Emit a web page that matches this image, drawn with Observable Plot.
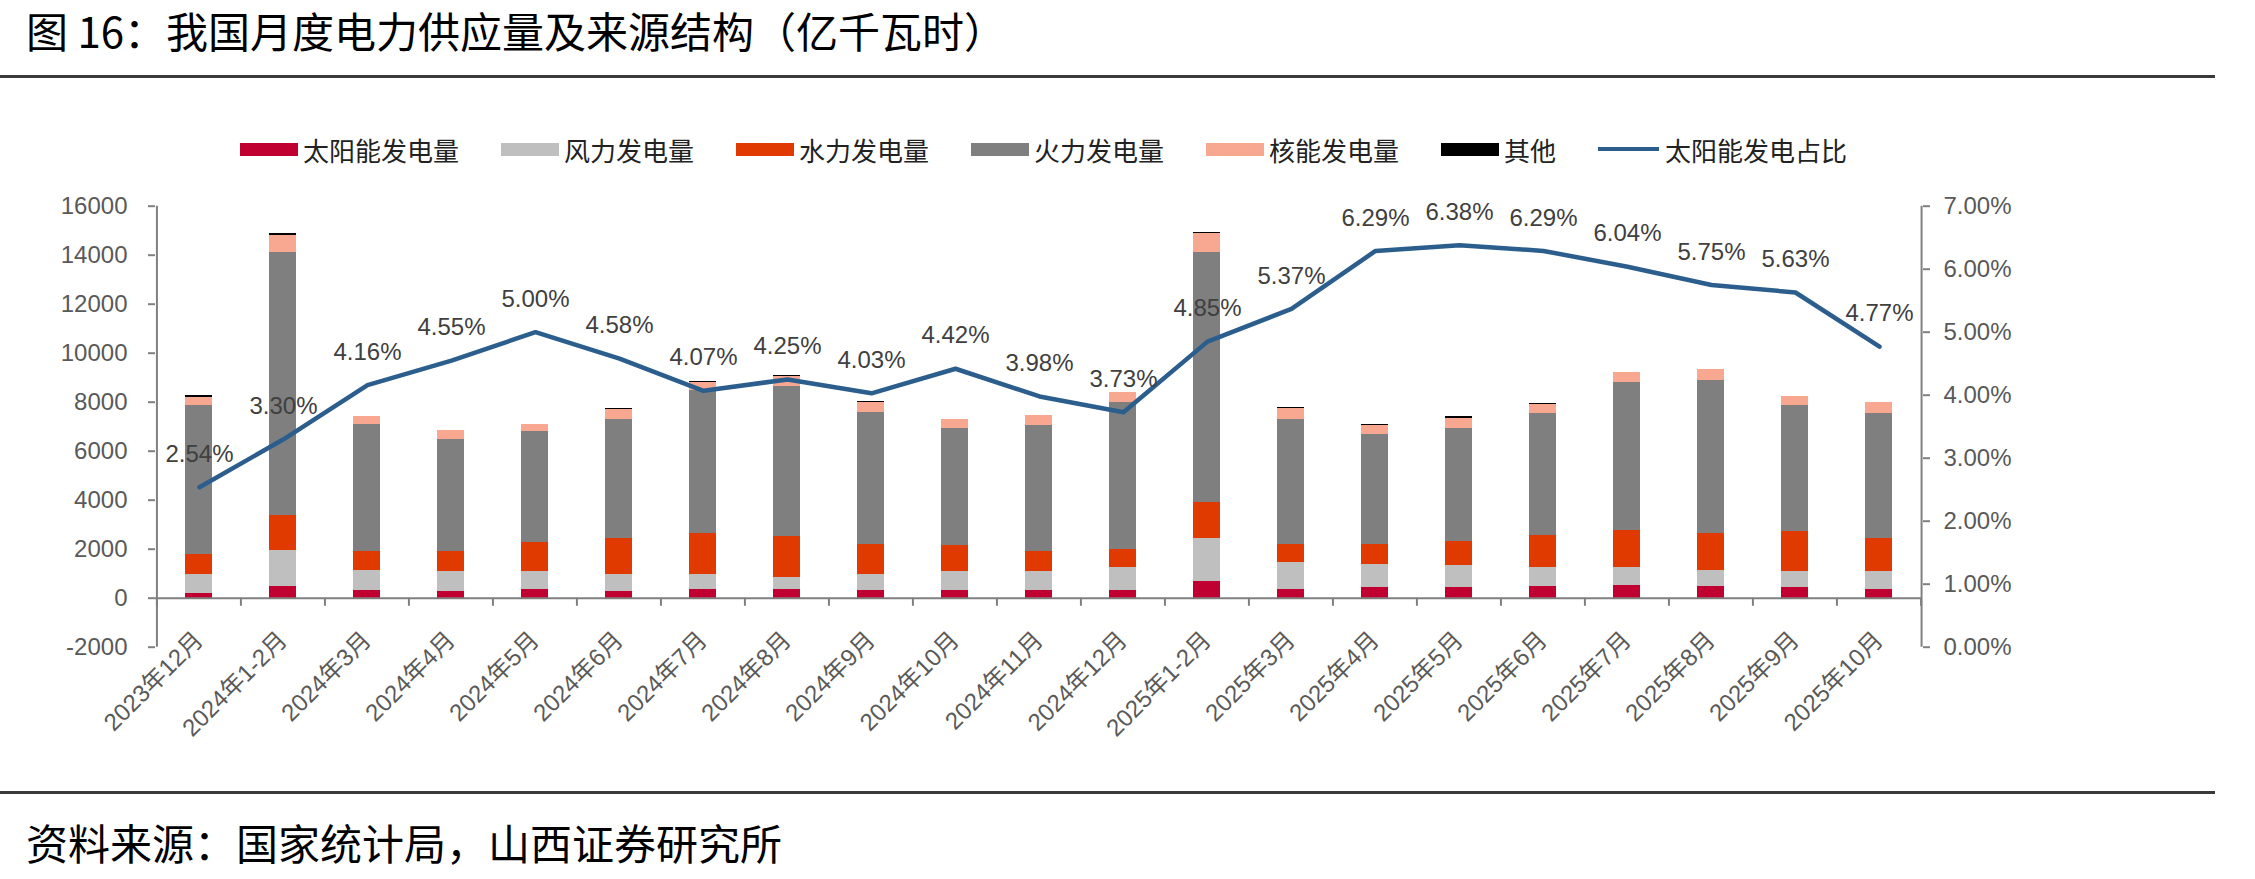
<!DOCTYPE html>
<html>
<head>
<meta charset="utf-8">
<script src="https://cdn.jsdelivr.net/npm/d3@7"></script>
<script src="https://cdn.jsdelivr.net/npm/@observablehq/plot@0.6"></script>
<style>
  body { margin: 0; background: #fff; }
  #wrap { position: relative; width: 2255px; height: 879px; overflow: hidden; background: #fff; }
  .title { position: absolute; left: 26px; top: 2px; height: 56px; line-height: 56px; font-family: "Noto Sans CJK SC", sans-serif; font-size: 42px; font-weight: 400; color: #000; white-space: nowrap; }
  .rule { position: absolute; left: 0; width: 2215px; height: 3px; background: #3a3a3a; }
  #legend { position: absolute; left: 240px; top: 132px; height: 34px; display: flex; align-items: center; font-family: "Noto Sans CJK SC", sans-serif; font-size: 26px; color: #222; white-space: nowrap; }
  .item { display: flex; align-items: center; margin-right: 42px; }
  .sw { width: 58px; height: 13px; margin-right: 5px; }
  .ln { width: 61px; height: 4px; margin-right: 6px; }
  .plot { position: absolute; left: 0; top: 185px; }
  .source { position: absolute; left: 26px; top: 814px; height: 56px; line-height: 56px; font-family: "Noto Sans CJK SC", sans-serif; font-size: 42px; font-weight: 400; color: #000; white-space: nowrap; }
</style>
</head>
<body>
<div id="wrap">
  <div class="title">图 16：我国月度电力供应量及来源结构（亿千瓦时）</div>
  <div class="rule" style="top:75px"></div>
  <div id="legend"></div>
  <div id="plotA" class="plot"></div>
  <div id="plotB" class="plot"></div>
  <div class="rule" style="top:791px"></div>
  <div class="source">资料来源：国家统计局，山西证券研究所</div>
</div>
<script>
// ---------- data ----------
const months = ["2023年12月","2024年1-2月","2024年3月","2024年4月","2024年5月","2024年6月","2024年7月","2024年8月","2024年9月","2024年10月","2024年11月","2024年12月","2025年1-2月","2025年3月","2025年4月","2025年5月","2025年6月","2025年7月","2025年8月","2025年9月","2025年10月"];
const solar   = [190, 474, 298, 286, 368, 286, 352, 352, 298, 298, 298, 298, 666, 352, 433, 433, 474, 531, 474, 433, 368];
const wind    = [790, 1487, 846, 802, 720, 680, 614, 490, 668, 790, 790, 940, 1769, 1103, 956, 887, 764, 719, 670, 655, 720];
const hydro   = [818, 1402, 761, 804, 1172, 1485, 1674, 1675, 1240, 1078, 817, 748, 1471, 751, 817, 993, 1336, 1500, 1496, 1621, 1363];
const thermal = [6047, 10759, 5204, 4605, 4549, 4863, 5850, 6117, 5378, 4764, 5148, 6007, 10216, 5092, 4466, 4617, 4985, 6035, 6239, 5136, 5108];
const nuclear = [352, 682, 312, 367, 300, 368, 300, 421, 396, 368, 424, 408, 751, 437, 381, 425, 339, 409, 449, 380, 421];
const other   = [60, 65, 0, 0, 0, 55, 45, 55, 55, 0, 0, 0, 45, 65, 55, 60, 60, 0, 0, 0, 0];
const solarShare = [2.54, 3.30, 4.16, 4.55, 5.00, 4.58, 4.07, 4.25, 4.03, 4.42, 3.98, 3.73, 4.85, 5.37, 6.29, 6.38, 6.29, 6.04, 5.75, 5.63, 4.77];

const seriesNames = ["太阳能发电量","风力发电量","水力发电量","火力发电量","核能发电量","其他"];
const seriesValues = [solar, wind, hydro, thermal, nuclear, other];
const seriesColors = ["#C00030","#BFBFBF","#E03A00","#7F7F7F","#F8A890","#000000"];
const lineName = "太阳能发电占比";
const lineColor = "#2C5E8D";

const leftTicks = [-2000, 0, 2000, 4000, 6000, 8000, 10000, 12000, 14000, 16000];
const rightTicks = [0, 1, 2, 3, 4, 5, 6, 7];

// ---------- layout ----------
const W = 2255, H = 606, ML = 155, MR = 333, MT = 20.7, MB = 144.3;
const step = (W - ML - MR) / months.length;
const axisGray = "#808080";
const textGray = "#595959";
const numFont = '"Liberation Sans", "Noto Sans CJK SC", sans-serif';

// legend
const legend = document.getElementById("legend");
seriesNames.forEach((n, i) => {
  const it = document.createElement("div");
  it.className = "item";
  it.innerHTML = `<div class="sw" style="background:${seriesColors[i]}"></div><span>${n}</span>`;
  legend.appendChild(it);
});
{
  const it = document.createElement("div");
  it.className = "item";
  it.innerHTML = `<div class="ln" style="background:${lineColor}"></div><span>${lineName}</span>`;
  legend.appendChild(it);
}

// stacked table
const long = months.flatMap((m, i) => seriesNames.map((s, k) => ({month: m, series: s, value: seriesValues[k][i]})));
const shareData = months.map((m, i) => ({month: m, share: solarShare[i]}));
const last = months[months.length - 1];

const plotA = Plot.plot({
  width: W, height: H, marginLeft: ML, marginRight: MR, marginTop: MT, marginBottom: MB,
  style: {fontFamily: numFont, fontSize: "24px", color: textGray, background: "transparent", overflow: "visible"},
  x: {type: "band", domain: months, paddingInner: 0.68, paddingOuter: 0.34, axis: null},
  y: {domain: [-2000, 16000], axis: null},
  color: {domain: seriesNames, range: seriesColors},
  marks: [
    Plot.barY(long, {x: "month", y: "value", fill: "series", shapeRendering: "crispEdges"}),
    Plot.ruleY([0], {stroke: axisGray, strokeWidth: 2}),
    Plot.ruleX(months, {x: d => d, dx: -step / 2, y1: 0, y2: -330, stroke: axisGray, strokeWidth: 2}),
    Plot.ruleX([last], {x: d => d, dx: step / 2, y1: 0, y2: -330, stroke: axisGray, strokeWidth: 2}),
    Plot.ruleX([months[0]], {x: d => d, dx: -step / 2, y1: -2000, y2: 16000, stroke: axisGray, strokeWidth: 2}),
    Plot.axisY({ticks: leftTicks, label: null, tickSize: 7, tickPadding: 21, tickFormat: d => String(d), fill: textGray, stroke: axisGray, strokeWidth: 2, fontSize: 24}),
    Plot.text(months, {x: d => d, y: () => 0, text: d => d, rotate: -45, textAnchor: "end", dy: 38, fontSize: 24, fill: textGray})
  ]
});
document.getElementById("plotA").appendChild(plotA);

const plotB = Plot.plot({
  width: W, height: H, marginLeft: ML, marginRight: MR, marginTop: MT, marginBottom: MB,
  style: {fontFamily: numFont, fontSize: "24px", color: textGray, background: "transparent", overflow: "visible"},
  x: {type: "point", domain: months, padding: 0.5, axis: null},
  y: {domain: [0, 7], axis: null},
  marks: [
    Plot.line(shareData, {x: "month", y: "share", stroke: lineColor, strokeWidth: 4.5, strokeLinejoin: "round"}),
    Plot.text(shareData, {x: "month", y: "share", text: d => d.share.toFixed(2) + "%", dy: -33, fontSize: 24, fill: "#404040"}),
    Plot.ruleX([last], {x: d => d, dx: step / 2, y1: 0, y2: 7, stroke: axisGray, strokeWidth: 2}),
    Plot.axisY({anchor: "right", label: null, ticks: rightTicks, tickSize: 7, tickPadding: 14, tickFormat: d => d.toFixed(2) + "%", fill: textGray, stroke: axisGray, strokeWidth: 2, fontSize: 24})
  ]
});
document.getElementById("plotB").appendChild(plotB);
</script>
</body>
</html>
